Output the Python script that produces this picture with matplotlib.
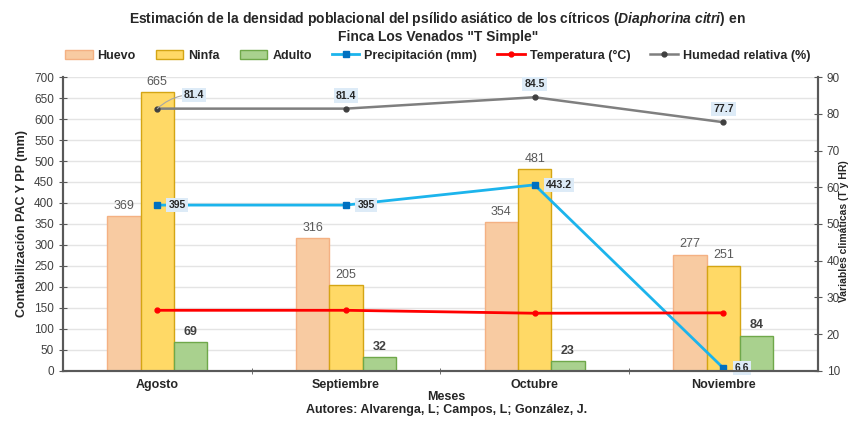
import matplotlib
matplotlib.use("Agg")
import matplotlib.pyplot as plt
import numpy as np
from matplotlib.patches import Patch
from matplotlib.lines import Line2D

months = ["Agosto", "Septiembre", "Octubre", "Noviembre"]
huevo = [369, 316, 354, 277]
ninfa = [665, 205, 481, 251]
adulto = [69, 32, 23, 84]
precip = [395, 395, 443.2, 6.6]
temp = [26.5, 26.5, 25.7, 25.8]
humedad = [81.4, 81.4, 84.5, 77.7]

plt.rcParams['font.family'] = ['Liberation Sans', 'DejaVu Sans']
plt.rcParams['mathtext.fontset'] = 'custom'
plt.rcParams['mathtext.it'] = 'Liberation Sans:italic:bold'
plt.rcParams['mathtext.rm'] = 'Liberation Sans:bold'

fig = plt.figure(figsize=(8.5, 4.21), dpi=100)
ax = fig.add_axes([0.074, 0.119, 0.888, 0.698])
ax2 = ax.twinx()

x = np.arange(len(months))
w = 0.177
c_h, e_h = "#F8CBA2", "#F4B183"
c_n, e_n = "#FFD966", "#D4A514"
c_a, e_a = "#A9D18E", "#6FA84A"

ax.bar(x - w, huevo, w, color=c_h, edgecolor=e_h, linewidth=1, zorder=2)
ax.bar(x, ninfa, w, color=c_n, edgecolor=e_n, linewidth=1, zorder=2)
ax.bar(x + w, adulto, w, color=c_a, edgecolor=e_a, linewidth=1, zorder=2)

for xi, v in zip(x, huevo):
    ax.text(xi - w, v + 10, f"{v}", ha="center", va="bottom", fontsize=9, color="#595959", zorder=5)
for xi, v in zip(x, ninfa):
    ax.text(xi, v + 10, f"{v}", ha="center", va="bottom", fontsize=9, color="#595959", zorder=5)
for xi, v in zip(x, adulto):
    ax.text(xi + w, v + 10, f"{v}", ha="center", va="bottom", fontsize=9, color="#404040", fontweight="bold", zorder=5)

ax.plot(x, precip, color="#1CB4EC", linewidth=2, marker="s", markersize=4,
        markerfacecolor="#0070C0", markeredgecolor="#0070C0", zorder=6)
box = dict(boxstyle="square,pad=0.2", facecolor="#DDEBF7", edgecolor="none")
for xi, v in zip(x, precip):
    ax.text(xi + 0.06, v, f"{v:g}", ha="left", va="center", fontsize=7.5, fontweight="bold",
            color="#262626", bbox=box, zorder=7)

ax2.plot(x, temp, color="#FF0000", linewidth=2, marker="o", markersize=3.5, zorder=6)
ax2.plot(x, humedad, color="#7F7F7F", linewidth=1.8, marker="o", markersize=3.5,
         markerfacecolor="#404040", markeredgecolor="#404040", zorder=6)
for i, (xi, v) in enumerate(zip(x, humedad)):
    if i == 0:
        ax2.annotate(f"{v:g}", xy=(xi, v), xytext=(xi + 0.14, v + 3.8), ha="left", va="center",
                     fontsize=7.5, fontweight="bold", color="#262626", bbox=box,
                     arrowprops=dict(arrowstyle="-", color="#A6A6A6", lw=0.8,
                                     connectionstyle="arc3,rad=0.2", shrinkA=0, shrinkB=0), zorder=7)
    else:
        ax2.text(xi, v + 2.2, f"{v:g}", ha="center", va="bottom", fontsize=7.5, fontweight="bold",
                 color="#262626", bbox=box, zorder=7)

ax.set_xlim(-0.5, 3.5)
ax.set_ylim(0, 700)
ax.set_yticks(np.arange(0, 701, 50))
ax2.set_ylim(10, 90)
ax2.set_yticks(np.arange(10, 91, 10))

ax.set_xticks(x)
ax.set_xticklabels(months, fontsize=9, fontweight="bold", color="#262626")
ax.set_xticks([0.5, 1.5, 2.5], minor=True)
ax.tick_params(axis="x", which="major", length=0, pad=6)
ax.tick_params(axis="x", which="minor", length=5, direction="inout", color="#595959")
ax.tick_params(axis="y", labelsize=8.5, labelcolor="#404040", direction="inout", length=6, color="#595959")
ax2.tick_params(axis="y", labelsize=8.5, labelcolor="#404040", direction="inout", length=6, color="#595959")

ax.grid(axis="y", color="#E4E4E4", linewidth=1, zorder=0)
ax.set_axisbelow(True)
ax.spines["top"].set_visible(False)
ax2.spines["top"].set_visible(False)
for a in (ax, ax2):
    for s in ["left", "right", "bottom"]:
        a.spines[s].set_color("#595959")
        a.spines[s].set_linewidth(1.5)

ax.set_ylabel("Contabilización PAC Y PP (mm)", fontsize=9, fontweight="bold", color="#262626", labelpad=4)
fig.text(0.987, 0.45, "Variables climáticas (T y HR)", rotation=90, ha="left", va="center",
         fontsize=7.5, fontweight="bold", color="#262626")

fig.text(0.515, 0.955, "Estimación de la densidad poblacional del psílido asiático de los cítricos ($\\mathit{Diaphorina\\ citri}$) en",
         ha="center", va="center", fontsize=10, fontweight="bold", color="#262626")
fig.text(0.515, 0.912, "Finca Los Venados \"T Simple\"", ha="center", va="center", fontsize=10,
         fontweight="bold", color="#262626")

fig.text(0.525, 0.056, "Meses", ha="center", va="center", fontsize=9, fontweight="bold", color="#262626")
fig.text(0.525, 0.026, "Autores: Alvarenga, L; Campos, L; González, J.", ha="center", va="center",
         fontsize=9, fontweight="bold", color="#262626")

handles = [
    Patch(facecolor=c_h, edgecolor=e_h, label="Huevo"),
    Patch(facecolor=c_n, edgecolor=e_n, label="Ninfa"),
    Patch(facecolor=c_a, edgecolor=e_a, label="Adulto"),
    Line2D([], [], color="#1CB4EC", lw=2, marker="s", ms=4, mfc="#0070C0", mec="#0070C0", label="Precipitación (mm)"),
    Line2D([], [], color="#FF0000", lw=2, marker="o", ms=3.5, label="Temperatura (°C)"),
    Line2D([], [], color="#7F7F7F", lw=1.8, marker="o", ms=3.5, mfc="#404040", mec="#404040", label="Humedad relativa (%)"),
]
leg = fig.legend(handles=handles, loc="center", bbox_to_anchor=(0.515, 0.868), ncol=6, frameon=False,
                 prop={"size": 9, "weight": "bold"}, handlelength=2.2, handleheight=0.8,
                 columnspacing=1.6, handletextpad=0.4)
for t in leg.get_texts():
    t.set_color("#262626")

fig.savefig("out.png", dpi=100)
